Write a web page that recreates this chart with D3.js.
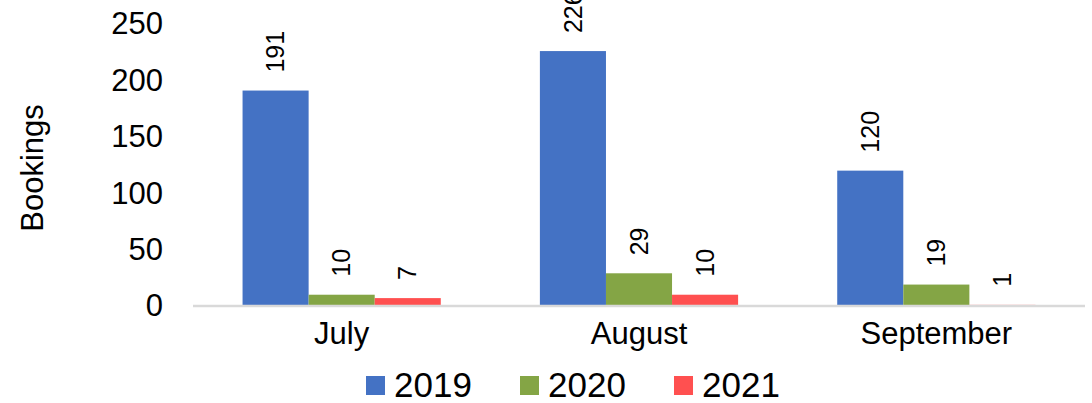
<!DOCTYPE html>
<html>
<head>
<meta charset="utf-8">
<script src="https://cdn.jsdelivr.net/npm/d3@7"></script>
<style>
  body { margin: 0; background: #fff; }
  svg { display: block; font-family: "Liberation Sans", Arial, sans-serif; }
</style>
</head>
<body>
<div id="chart"></div>
<script>
// chart data
var months = ["July", "August", "September"];
var years = ["2019", "2020", "2021"];
var values2019 = [191, 226, 120];
var values2020 = [10, 29, 19];
var values2021 = [7, 10, 1];
var yTicks = [0, 50, 100, 150, 200, 250];
var colors = ["#4472C4", "#84A545", "#FF5050"];

var seriesValues = [values2019, values2020, values2021];

var width = 1092, height = 403;
var margin = {top: 24, right: 7, bottom: 97, left: 193};

var svg = d3.select("#chart").append("svg")
    .attr("width", width)
    .attr("height", height);

// scales
var x = d3.scaleBand()
    .domain(months)
    .range([margin.left, width - margin.right])
    .paddingInner(1/3)
    .paddingOuter(1/6);

var xs = d3.scaleBand()
    .domain(years)
    .range([0, x.bandwidth()]);

var y = d3.scaleLinear()
    .domain([0, 250])
    .range([height - margin.bottom, margin.top]);

// y axis labels only (no line, no ticks)
var yAxis = d3.axisLeft(y).tickValues(yTicks).tickSize(0).tickPadding(30);
svg.append("g")
    .attr("class", "y_axis")
    .attr("transform", "translate(" + margin.left + ",0)")
    .call(yAxis)
    .call(function(g) { g.select(".domain").remove(); })
    .selectAll("text")
    .style("font-size", "31px")
    .style("font-family", "Liberation Sans, Arial, sans-serif")
    .attr("fill", "#000");

// bars
var rows = [];
years.forEach(function(yr, i) {
    months.forEach(function(m, j) {
        rows.push({year: yr, month: m, value: seriesValues[i][j], color: colors[i]});
    });
});

svg.selectAll(".bar")
    .data(rows)
    .enter().append("rect")
    .attr("class", "bar")
    .attr("x", function(d) { return x(d.month) + xs(d.year); })
    .attr("y", function(d) { return y(d.value); })
    .attr("width", xs.bandwidth())
    .attr("height", function(d) { return y(0) - y(d.value); })
    .attr("fill", function(d) { return d.color; });

// x axis line (drawn over the bar bottoms)
svg.append("line")
    .attr("x1", margin.left)
    .attr("x2", width - margin.right)
    .attr("y1", y(0))
    .attr("y2", y(0))
    .attr("stroke", "#d9d9d9")
    .attr("stroke-width", 2.5);

// category labels
svg.selectAll(".x_label")
    .data(months)
    .enter().append("text")
    .attr("class", "x_label")
    .attr("x", function(d) { return x(d) + x.bandwidth() / 2; })
    .attr("y", 344)
    .attr("text-anchor", "middle")
    .style("font-size", "31px")
    .text(function(d) { return d; });

// data labels, rotated
svg.selectAll(".val_label")
    .data(rows)
    .enter().append("text")
    .attr("class", "val_label")
    .attr("transform", function(d) {
        var cx = x(d.month) + xs(d.year) + xs.bandwidth() / 2;
        return "translate(" + cx + "," + (y(d.value) - 18) + ") rotate(-90)";
    })
    .attr("dy", "0.35em")
    .attr("text-anchor", "start")
    .style("font-size", "25px")
    .text(function(d) { return d.value; });

// y axis title
svg.append("text")
    .attr("transform", "translate(32,168) rotate(-90)")
    .attr("dy", "0.35em")
    .attr("text-anchor", "middle")
    .style("font-size", "31px")
    .text("Bookings");

// legend
var legendX = [366, 520, 674];
var legend = svg.selectAll(".legend")
    .data(years)
    .enter().append("g")
    .attr("class", "legend")
    .attr("transform", function(d, i) { return "translate(" + legendX[i] + ",376)"; });

legend.append("rect")
    .attr("width", 19)
    .attr("height", 19)
    .attr("fill", function(d, i) { return colors[i]; });

legend.append("text")
    .attr("x", 28)
    .attr("y", 21)
    .style("font-size", "35px")
    .text(function(d) { return d; });
</script>
</body>
</html>
